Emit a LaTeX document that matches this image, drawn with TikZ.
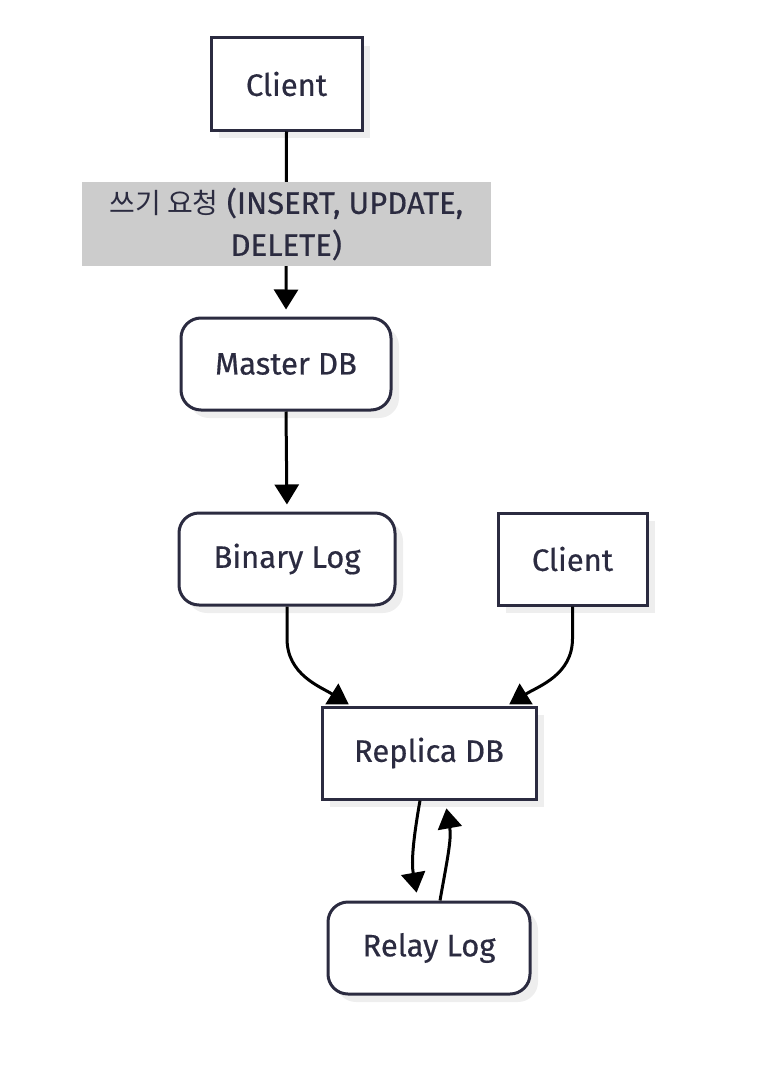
\documentclass[tikz,border=0pt]{standalone}
\usepackage{fontspec}
\setmainfont{Fira Sans}[FakeBold=0.5]
\newfontfamily\kr{Noto Sans CJK KR}
\usetikzlibrary{arrows.meta,shadows,calc}
\definecolor{ink}{HTML}{2B2B40}
\definecolor{shade}{HTML}{EEEEEE}
\definecolor{lblbg}{HTML}{CCCCCC}
\tikzset{
  every node/.style={font=\fontsize{31}{42}\selectfont, text=ink},
  box/.style={draw=ink, line width=3pt, fill=white, inner sep=0pt,
    drop shadow={shadow xshift=8pt, shadow yshift=-8pt, fill=shade, opacity=1}},
  rbox/.style={box, rounded corners=20pt},
  arr/.style={draw=black, line width=3pt, -{Triangle[length=20pt,width=24pt]}, shorten >=7pt},
  lbl/.style={fill=lblbg, inner sep=0pt, align=center}
}
\begin{document}
\begin{tikzpicture}[x=1pt,y=1pt]
\useasboundingbox (0,0) rectangle (784,-1073);
\node[box, minimum width=151pt, minimum height=92pt] (c1) at (286.5,-84) {Client};
\node[rbox, minimum width=210pt, minimum height=92pt] (m) at (286,-364) {Master DB};
\node[rbox, minimum width=216pt, minimum height=92pt] (b) at (287,-559) {Binary Log};
\node[box, minimum width=149pt, minimum height=92pt] (c2) at (572.5,-559) {Client};
\node[box, minimum width=214pt, minimum height=92pt] (r) at (429,-753) {Replica DB};
\node[rbox, minimum width=202pt, minimum height=92pt] (l) at (429,-948) {Relay Log};

\draw[arr] (c1.south) -- (m.north)
  node[lbl, pos=0.5, minimum width=409pt, minimum height=84pt] (t) {{\kr\fontsize{28}{42}\selectfont 쓰기 요청} (INSERT, UPDATE,\\DELETE)};
\draw[arr] (m.south) -- (b.north);
\draw[arr, shorten >=2pt] (b.south) -- ++(0,-32) to[out=-90,in=148] ($(r.north west)+(30,0)$);
\draw[arr, shorten >=2pt] (c2.south) -- ++(0,-32) to[out=-90,in=32] ($(r.north east)+(-30,0)$);
\draw[arr, shorten >=8pt] ($(r.south)+(-9,0)$) to[out=-100,in=100] ($(l.north)+(-11,0)$);
\draw[arr, shorten >=8pt] ($(l.north)+(11,0)$) to[out=80,in=-80] ($(r.south)+(16,0)$);
\end{tikzpicture}
\end{document}
